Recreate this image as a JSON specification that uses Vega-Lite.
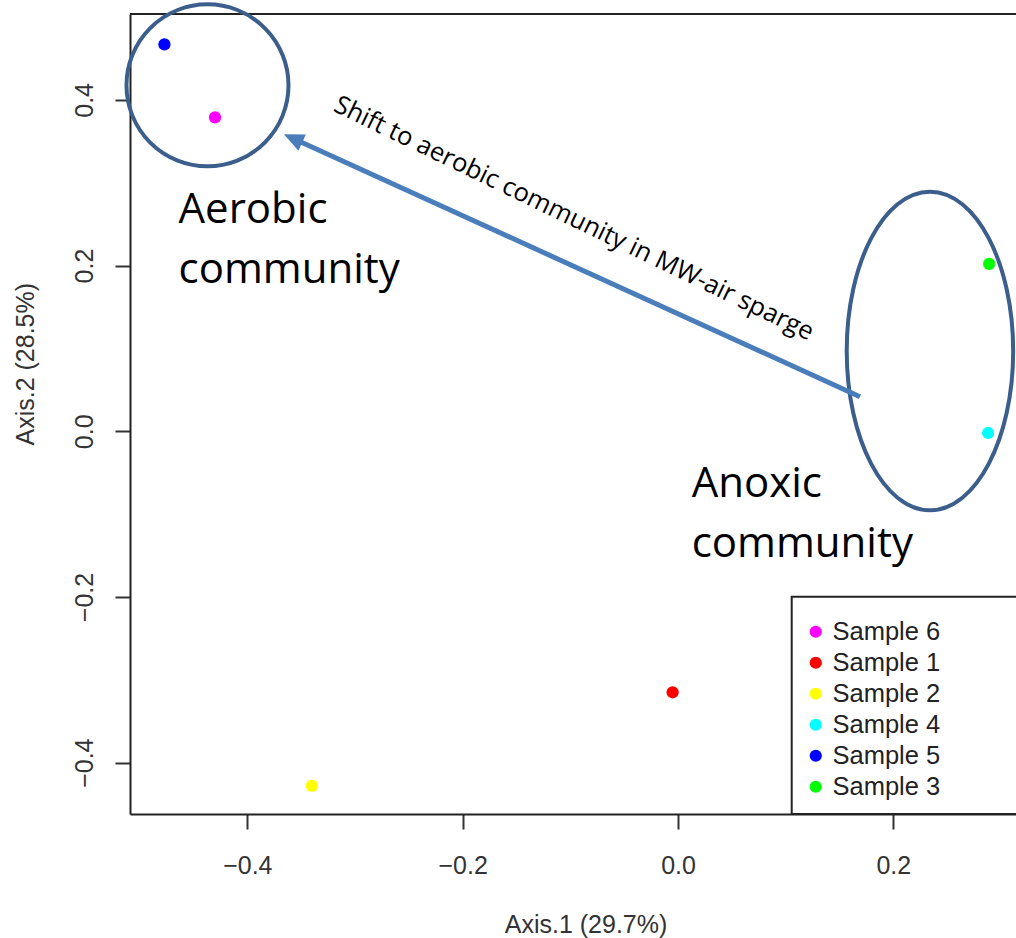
{
  "$schema": "https://vega.github.io/schema/vega-lite/v6.json",
  "width": 886,
  "height": 800,
  "autosize": "none",
  "padding": {"left": 130, "top": 14, "right": 0, "bottom": 124},
  "background": "white",
  "config": {
    "view": {"stroke": null},
    "axis": {
      "grid": false,
      "domainColor": "#222",
      "domainWidth": 2,
      "tickColor": "#333",
      "tickWidth": 2,
      "tickSize": 15,
      "labelFont": "Liberation Sans",
      "labelFontSize": 25,
      "labelColor": "#333",
      "titleFont": "Liberation Sans",
      "titleFontSize": 25,
      "titleFontWeight": "normal",
      "titleColor": "#333",
      "labelFlush": false,
      "labelOverlap": false
    }
  },
  "datasets": {
    "points": [
      {"sample": "Sample 1", "axis1": -0.005, "axis2": -0.315},
      {"sample": "Sample 2", "axis1": -0.340, "axis2": -0.428},
      {"sample": "Sample 3", "axis1": 0.289, "axis2": 0.202},
      {"sample": "Sample 4", "axis1": 0.288, "axis2": -0.002},
      {"sample": "Sample 5", "axis1": -0.477, "axis2": 0.467},
      {"sample": "Sample 6", "axis1": -0.430, "axis2": 0.379}
    ],
    "legendbox": [{"x": 0.1056, "x2": 0.34, "y": -0.1996, "y2": -0.4619}],
    "aerobic": [{"group": "Aerobic community", "x": -0.437, "y": 0.4176}],
    "anoxic": [{"group": "Anoxic community", "x": 0.234, "y": 0.0969}],
    "arrow": [{"x": 0.169, "y": 0.0418, "x2": -0.3533, "y2": 0.351, "tipx": -0.366, "tipy": 0.3585}],
    "labels": [
      {"text": "Aerobic\ncommunity", "x": -0.4639, "y": 0.2518},
      {"text": "Anoxic\ncommunity", "x": 0.0127, "y": -0.0793}
    ],
    "shift": [{"text": "Shift to aerobic community in MW-air sparge", "x": -0.0966, "y": 0.2569}]
  },
  "layer": [
    {
      "data": {"name": "legendbox"},
      "mark": {"type": "rect", "fill": "white", "stroke": "#222", "strokeWidth": 2},
      "encoding": {
        "x": {"field": "x", "type": "quantitative", "scale": {"domain": [-0.50897, 0.31392], "nice": false, "zero": false},
              "axis": {"values": [-0.4, -0.2, 0, 0.2], "format": ".1f", "labelPadding": 24, "labelBaseline": "top", "labelAlign": "center",
                       "title": "Axis.1 (29.7%)", "titleX": 455.5, "titleY": 118.7, "titleBaseline": "alphabetic", "titleAlign": "center", "titleAngle": 0}},
        "x2": {"field": "x2"},
        "y": {"field": "y", "type": "quantitative", "scale": {"domain": [-0.46192, 0.50368], "nice": false, "zero": false},
              "axis": {"values": [-0.4, -0.2, 0, 0.2, 0.4], "format": ".1f", "labelAngle": 270, "labelAlign": "center", "labelBaseline": "alphabetic", "labelPadding": 23,
                       "title": "Axis.2 (28.5%)", "titleAngle": 270, "titleX": -96.7, "titleY": 349.7, "titleBaseline": "alphabetic", "titleAlign": "center"}},
        "y2": {"field": "y2"}
      }
    },
    {
      "data": {"name": "legendbox"},
      "mark": {"type": "rule", "color": "#222", "strokeWidth": 2},
      "encoding": {"y": {"datum": 0.50368, "type": "quantitative"}}
    },
    {
      "data": {"name": "aerobic"},
      "mark": {"type": "point", "shape": "circle", "filled": false, "stroke": "#3B5E8C", "strokeWidth": 4, "size": 26244, "opacity": 1},
      "encoding": {"x": {"field": "x", "type": "quantitative"}, "y": {"field": "y", "type": "quantitative"}}
    },
    {
      "data": {"name": "anoxic"},
      "mark": {"type": "point", "shape": "M0,-1 A0.5225,1 0 1,1 0,1 A0.5225,1 0 1,1 0,-1 Z", "filled": false, "stroke": "#3B5E8C", "strokeWidth": 4, "size": 101500, "opacity": 1},
      "encoding": {"x": {"field": "x", "type": "quantitative"}, "y": {"field": "y", "type": "quantitative"}}
    },
    {
      "data": {"name": "arrow"},
      "mark": {"type": "rule", "color": "#4A7EBB", "strokeWidth": 5},
      "encoding": {
        "x": {"field": "x", "type": "quantitative"}, "y": {"field": "y", "type": "quantitative"},
        "x2": {"field": "x2"}, "y2": {"field": "y2"}
      }
    },
    {
      "data": {"name": "arrow"},
      "mark": {"type": "point", "shape": "M0,0 L-0.45,1 L0.45,1 Z", "filled": true, "fill": "#4A7EBB", "strokeWidth": 0, "size": 1600, "angle": 294.5, "opacity": 1},
      "encoding": {"x": {"field": "tipx", "type": "quantitative"}, "y": {"field": "tipy", "type": "quantitative"}}
    },
    {
      "data": {"name": "labels"},
      "mark": {"type": "text", "font": "Open Sans", "fontSize": 42, "lineHeight": 60, "lineBreak": "\n", "align": "left", "baseline": "alphabetic", "color": "black"},
      "encoding": {"x": {"field": "x", "type": "quantitative"}, "y": {"field": "y", "type": "quantitative"}, "text": {"field": "text"}}
    },
    {
      "data": {"name": "shift"},
      "mark": {"type": "text", "font": "Open Sans", "fontSize": 25.5, "angle": 25.8, "align": "center", "baseline": "middle", "color": "black"},
      "encoding": {"x": {"field": "x", "type": "quantitative"}, "y": {"field": "y", "type": "quantitative"}, "text": {"field": "text"}}
    },
    {
      "data": {"name": "points"},
      "mark": {"type": "point", "filled": true, "shape": "circle", "size": 150, "opacity": 1},
      "encoding": {
        "x": {"field": "axis1", "type": "quantitative"},
        "y": {"field": "axis2", "type": "quantitative"},
        "color": {
          "field": "sample", "type": "nominal",
          "scale": {"domain": ["Sample 6", "Sample 1", "Sample 2", "Sample 4", "Sample 5", "Sample 3"],
                    "range": ["#FF00FF", "#FF0000", "#FFFF00", "#00FFFF", "#0000FF", "#00FF00"]},
          "legend": {"orient": "none", "legendX": 673, "legendY": 605, "title": null, "symbolType": "circle", "symbolSize": 150,
                     "labelFont": "Liberation Sans", "labelFontSize": 25.5, "labelColor": "#222", "rowPadding": 4, "labelOffset": 4,
                     "padding": 0, "symbolStrokeWidth": 0, "labelLimit": 0}
        }
      }
    }
  ]
}
